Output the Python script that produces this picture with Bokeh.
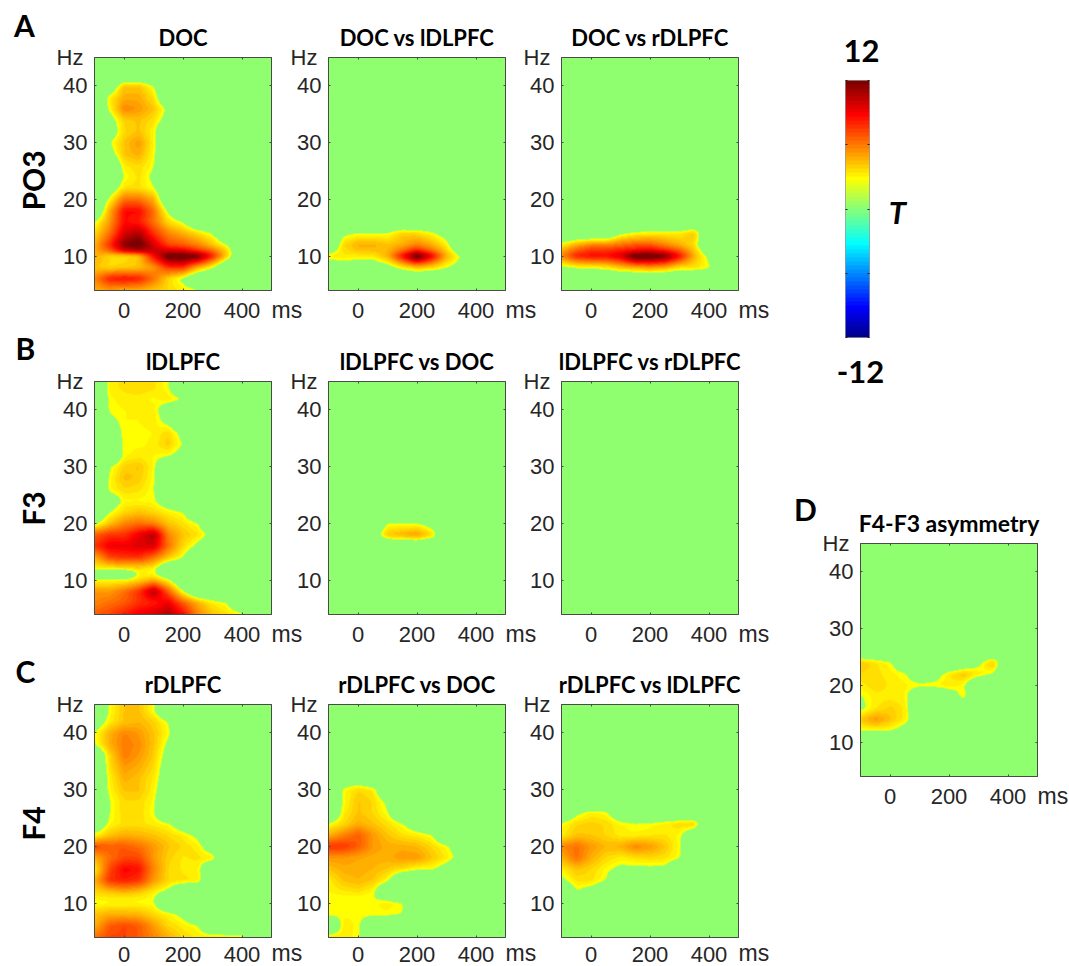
import numpy as np
from bokeh.embed import file_html
from bokeh.layouts import column, row
from bokeh.models import FixedTicker, Label, LinearAxis, LinearColorMapper, Range1d
from bokeh.plotting import figure
from bokeh.resources import INLINE

TIMES = [-100, -50, 0, 50, 100, 150, 200, 250, 300, 350, 400, 450, 500]
# rows run from the top of a panel down; short rows are zero to the right
FREQS = [44, 42, 40, 38, 36, 34, 32, 30, 28, 26, 24, 22, 20, 18, 16, 14, 12, 11, 10, 8, 6, 4]
X_TICKS = [0, 200, 400]
Y_TICKS = [10, 20, 30, 40]
CBAR_TICKS = [-12, -6, 0, 6, 12]

DOC = [
    [], [],
    [0, 1, 4.5, 4.5, 2.9],
    [0, 3.5, 5, 5, 3.8, 0],
    [0, 3.2, 6, 5.5, 4.5, 2.5],
    [0, 2, 4.2, 4.5, 3.8, 2],
    [0, 1.5, 4, 4.5, 3.3],
    [0, 2.8, 4.5, 5.5, 3.3],
    [0, 2, 4.5, 5, 3.2],
    [0, 0, 3.6, 4, 3],
    [0, 0, 3, 3.8, 2.5],
    [0, 1.5, 3.8, 3.8, 3],
    [0, 3.2, 6.5, 6.5, 5, 0],
    [0, 5, 9, 9, 6.5, 2.5],
    [2.8, 5.5, 9, 8.5, 6.5, 4, 2.8],
    [4, 6.5, 10, 11, 8, 6, 5, 4, 2.8],
    [5, 8, 12, 13, 10, 7.5, 7, 6, 4.5, 2.8],
    [5, 7, 10, 11, 10.5, 10, 9.5, 8, 6.5, 4],
    [5, 4, 3.8, 4.5, 9, 13, 13.5, 12.5, 8.5, 4.2],
    [4.5, 4, 4.2, 4.5, 5.5, 8, 8, 5, 3],
    [6, 8.5, 9, 8.5, 6.5, 4, 2.5],
    [5, 5.5, 5, 5, 4.5, 4, 3.5, 3],
]
DOC_VS_L = [
    [], [], [], [], [], [], [], [], [], [], [], [], [], [], [],
    [0, 2.5, 3, 3, 3, 4.2, 4, 3.2, 2],
    [0, 4, 5, 5, 4.5, 5, 6, 5, 3.5],
    [2, 3.8, 4.5, 4.6, 4.8, 6.5, 8.5, 6.5, 4.2, 1],
    [3.5, 3.6, 3.5, 3.5, 5, 9, 13.5, 9.5, 5, 2.8],
    [1.5, 2, 1.5, 1.5, 2, 3.5, 4.5, 4, 3, 2],
    [], [],
]
DOC_VS_R = [
    [], [], [], [], [], [], [], [], [], [], [], [], [], [], [],
    [0, 0, 0, 0, 2.5, 3.2, 3.5, 3.5, 3.5, 4.5],
    [3.5, 5, 6, 6, 6.5, 7, 7, 6, 5, 3.8],
    [5, 7, 8, 8, 8.5, 9, 9.5, 8.5, 7, 4.5, 1],
    [6, 8.5, 9, 9, 10, 13.5, 13.5, 12.5, 9, 5, 2.5],
    [2.5, 3, 3.2, 3.5, 4.5, 5, 5.5, 5, 3.8, 3.8, 3.2],
    [], [],
]
LDLPFC = [
    [0, 3.5, 3.8, 4, 3.8, 3],
    [0, 3.2, 3.5, 3.5, 3.2, 3.6, 3],
    [0, 3.1, 3.3, 3.3, 3.5, 1.5],
    [0, 2.4, 3.3, 3.3, 3.5, 2.4],
    [0, 1.5, 3.2, 3.2, 3.3, 4, 2.3],
    [0, 1, 3.2, 3.2, 3.4, 4.3, 2.8],
    [0, 0, 3.2, 3.5, 3.3, 3.1, 2],
    [0, 2.8, 4.2, 4.5, 3.2],
    [0, 3.1, 4.6, 4.3, 3.1],
    [0, 3.2, 4, 3.8, 3],
    [0, 1.5, 3.2, 3.2, 3.1, 1.5],
    [0, 2.8, 4, 4.5, 4, 3.4, 2.9],
    [2.5, 4.5, 6, 6.5, 6, 4.5, 3.8, 3],
    [7, 8, 8, 9.5, 11, 6, 4.5, 3.8, 2.5],
    [8, 9.5, 9.5, 10, 10, 6.5, 4, 2.5],
    [5, 7.5, 8, 8, 6.5, 4.5, 2.9],
    [3.3, 3.3, 3.6, 3.8, 3.2, 0],
    [0, 0, 0, 3.2, 3.2, 1],
    [3.2, 3.2, 3.2, 4, 5, 3.2],
    [5.5, 5.5, 6.5, 8, 11, 7, 3],
    [6, 6.5, 7, 8, 8.5, 9.5, 7, 5, 3.5, 2.9],
    [7, 7.5, 8.5, 9.5, 10, 11, 9, 6, 4.5, 3.8, 3.2],
]
L_VS_DOC = [
    [], [], [], [], [], [], [], [], [], [], [], [],
    [0, 0, 0, 0, 2.9, 2.9, 2.9, 2],
    [0, 0, 0, 1.5, 4.5, 5, 5.5, 4],
    [], [], [], [], [], [], [], [],
]
L_VS_R = [[] for f in FREQS]
RDLPFC = [
    [0, 3.1, 4.5, 4.5, 3.1],
    [1.5, 3.5, 4.5, 4.8, 4.2, 2.9],
    [3, 5, 6, 5.5, 4.5, 3.2],
    [2.8, 5, 6.2, 5.8, 4.5, 2.5],
    [0, 4, 6.2, 5.5, 4.3, 2],
    [0, 3.8, 5.5, 5, 4, 1.5],
    [0, 3.4, 5, 4.5, 3.6, 1.5],
    [0, 3.3, 4.5, 4.5, 3.4, 1],
    [0, 2.9, 4, 4, 3.2],
    [0, 2.9, 4, 4, 3],
    [1, 3.2, 3.8, 3.8, 3.5, 3.1, 1.5],
    [3.2, 4.5, 5, 4.8, 4.5, 4, 3.5, 2.5],
    [7.5, 7, 7, 6.5, 5.5, 4.5, 4, 3.5, 1.5],
    [5, 6.5, 7.5, 7.5, 5.5, 4.2, 3.6, 3.8, 3.6],
    [3.5, 7.5, 9.2, 8.8, 6, 4, 3.6, 3.4],
    [5, 8, 8.5, 8, 5.5, 4, 3.8, 3.6],
    [4, 4.5, 5, 4.5, 3.5, 2.5],
    [3.5, 3.6, 3.6, 3.5, 3.1],
    [3, 3.2, 3.2, 3.2, 3],
    [4.5, 5, 5, 4.8, 4, 3.4, 2.5],
    [5, 7, 7.5, 7, 5.5, 4, 3.5, 3],
    [6.5, 7.5, 7.5, 7, 6, 5, 4, 3.6, 3.6, 3.5, 3.4],
]
R_VS_DOC = [
    [], [], [], [], [], [],
    [0, 1, 1.5],
    [0, 3.2, 4, 3.6, 0],
    [0, 3.1, 4.5, 4, 2.5],
    [0, 3.5, 4.5, 4, 3],
    [3, 4, 5, 4.5, 3.8, 3, 1.5],
    [5, 6, 7, 5.5, 4.5, 3.8, 3.5, 3],
    [8, 8, 7, 5.5, 5, 5, 4.8, 4, 3.2, 1.5],
    [5.5, 5.5, 5.2, 5, 5, 5.5, 5.5, 4.5, 3.6, 2.3],
    [4.5, 5, 5, 4.8, 4.4, 3.8, 3.1, 3.1, 2],
    [3.5, 4.5, 4.8, 4.4, 3.1],
    [3.3, 3.6, 3.8, 3.2],
    [3.1, 3.1, 3.1, 3, 2],
    [3.2, 3.3, 3.3, 3.2, 3.5, 3.1],
    [3.2, 3.2, 3.3, 3.2, 3.2, 2.9],
    [0, 3.5, 3.2, 0],
    [3.6, 3.6, 3.1, 0],
]
R_VS_L = [
    [], [], [], [], [], [], [], [], [],
    [0, 2.5, 3.4, 3.1, 1],
    [3.1, 4, 4.2, 4, 3.3, 3, 3.1, 3.5, 4, 4.2],
    [3.5, 4.5, 4.4, 4, 3.5, 3.4, 3.6, 3.7, 3.2, 1],
    [6, 6.5, 5.5, 4.8, 5, 6, 5.5, 4.5, 3.1],
    [5, 6.5, 5, 4, 3.5, 3.8, 4, 3.8, 3.1],
    [3.5, 4.5, 4, 3.2, 2.5, 2.5, 2.5, 2.5],
    [2.5, 3.8, 3.8, 2.9],
    [0, 2.8, 2],
    [], [], [], [], [],
]
ASYM = [
    [], [], [], [], [], [], [], [], [], [],
    [4.5, 3.8, 3.1, 1, 0, 0, 0, 1, 2.5, 4.5],
    [4, 3.8, 3.5, 3.05, 1.5, 2, 3.6, 4.5, 3.6, 2.8],
    [3.5, 4, 3.6, 3.4, 3.2, 3.3, 3.6, 3.1],
    [2.8, 3.5, 3.5, 3.3, 0.5, 0, 1.5, 3.4],
    [2.5, 3.6, 4.2, 3.6],
    [4.5, 5.6, 4.5, 3.5, 1],
    [2.9, 3.1, 3, 2],
    [], [], [], [], [],
]

FRAME_W = 177
FRAME_H = 233
THRESHOLD = 2.9
COLOR_SHIFT = 0.3
TEXT = "#262626"
EDGE = "#4a4a4a"
PAGE_W = 1069
PAGE_H = 966

# matlab jet with 64 steps, T = 0 lands on the green of the panels
JET = []
for i in range(64):
    f = (i + 1) / 64
    rgb = [min(max(1.5 - abs(4 * f - c), 0), 1) for c in (3, 2, 1)]
    JET.append("#%02x%02x%02x" % tuple(int(round(v * 255)) for v in rgb))
mapper = LinearColorMapper(palette=JET, low=-12, high=12)


def smooth(a, n=5):
    kern = np.ones(n) / n
    pad = n // 2
    for axis in (0, 1):
        a = np.apply_along_axis(
            lambda v: np.convolve(np.pad(v, pad, mode="edge"), kern, mode="valid"), axis, a)
    return a


def panel_image(rows):
    grid = np.zeros((len(FREQS), len(TIMES)))
    for i, r in enumerate(rows):
        grid[i, :len(r)] = r
    grid = grid[::-1]
    hz = np.array(FREQS[::-1])
    xs = np.linspace(-100, 500, FRAME_W)
    ys = np.linspace(4, 45, FRAME_H)
    fine = np.array([np.interp(xs, TIMES, g) for g in grid])
    fine = np.array([np.interp(ys, hz, fine[:, j]) for j in range(FRAME_W)]).T
    fine = smooth(fine)
    out = fine - COLOR_SHIFT
    out[fine < THRESHOLD] = 0
    return out


def frame_axis(p, ticks, side):
    ax = LinearAxis(ticker=FixedTicker(ticks=ticks), major_tick_in=2, major_tick_out=0,
                    minor_tick_line_color=None, axis_line_color=EDGE, major_tick_line_color=EDGE,
                    major_label_text_color=None, major_label_standoff=0)
    p.add_layout(ax, side)


def panel(rows, title, left, right, top, bottom, shift=0, title_size=22, standoff=12):
    p = figure(title=title, frame_width=FRAME_W, frame_height=FRAME_H,
               x_range=Range1d(-100, 500), y_range=Range1d(4, 45),
               output_backend="svg", toolbar_location=None,
               min_border_left=left, min_border_right=right,
               min_border_top=top, min_border_bottom=bottom,
               margin=(0, 0, 0, shift),
               background_fill_color=None, border_fill_color=None,
               outline_line_color=EDGE)
    p.grid.visible = False
    p.title.align = "center"
    p.title.text_font = "Lato"
    p.title.text_font_size = "%dpx" % title_size
    p.title.text_font_style = "bold"
    p.title.text_color = "black"
    p.title.standoff = 13
    p.image(image=[panel_image(rows)], x=-100, y=4, dw=600, dh=41, color_mapper=mapper)
    for ax, ticks in ((p.xaxis[0], X_TICKS), (p.yaxis[0], Y_TICKS)):
        ax.ticker = FixedTicker(ticks=ticks)
        ax.major_tick_in = 2
        ax.major_tick_out = 0
        ax.minor_tick_line_color = None
        ax.axis_line_color = EDGE
        ax.major_tick_line_color = EDGE
        ax.major_label_text_font = "Liberation Sans"
        ax.major_label_text_font_size = "22px"
        ax.major_label_text_color = TEXT
    p.xaxis[0].major_label_standoff = standoff
    p.yaxis[0].major_label_standoff = 7
    frame_axis(p, X_TICKS, "above")
    frame_axis(p, Y_TICKS, "right")
    return p


def row_of(rows, titles, top, bottom, standoff=12):
    a = panel(rows[0], titles[0], 86, 32, top, bottom, standoff=standoff)
    b = panel(rows[1], titles[1], 40, 33, top, bottom, shift=-15, standoff=standoff)
    c = panel(rows[2], titles[2], 40, 32, top, bottom, shift=-17, standoff=standoff)
    return row(a, b, c)


row_a = row_of([DOC, DOC_VS_L, DOC_VS_R], ["DOC", "DOC vs lDLPFC", "DOC vs rDLPFC"], 49, 40)
row_b = row_of([LDLPFC, L_VS_DOC, L_VS_R], ["lDLPFC", "lDLPFC vs DOC", "lDLPFC vs rDLPFC"], 51, 36)
row_c = row_of([RDLPFC, R_VS_DOC, R_VS_L], ["rDLPFC", "rDLPFC vs DOC", "rDLPFC vs lDLPFC"], 54, 29, standoff=9)

# colour bar drawn from the same mapper
cbar = figure(frame_width=24, frame_height=257, x_range=Range1d(0, 1), y_range=Range1d(-12, 12),
              output_backend="svg", toolbar_location=None,
              min_border_left=77, min_border_right=197, min_border_top=72, min_border_bottom=63,
              margin=(0, 0, 0, -15),
              background_fill_color=None, border_fill_color=None, outline_line_color="#9a9a9a")
cbar.grid.visible = False
cbar.xaxis.visible = False
cbar.yaxis.visible = False
cbar.image(image=[np.linspace(-12, 12, 64).reshape(64, 1)], x=0, y=-12, dw=1, dh=24, color_mapper=mapper)
for side in ("left", "right"):
    ax = LinearAxis(ticker=FixedTicker(ticks=CBAR_TICKS), major_tick_in=2, major_tick_out=0,
                    minor_tick_line_color=None, axis_line_color=None, major_tick_line_color="#222222",
                    major_label_text_color=None, major_label_standoff=0)
    cbar.add_layout(ax, side)

asym = panel(ASYM, "F4-F3 asymmetry", 90, 31, 143, 45, title_size=23)

panels = row(column(row_a, row_b, row_c), column(cbar, asym), margin=(8, 0, 0, 8))

# labels outside a frame get cut off, so loose texts sit on a see-through sheet over the page
sheet = figure(width=PAGE_W, height=PAGE_H, x_range=Range1d(0, PAGE_W), y_range=Range1d(PAGE_H, 0),
               x_axis_location=None, y_axis_location=None, output_backend="svg", toolbar_location=None,
               min_border=0, margin=(0, 0, -PAGE_H, 0), outline_line_color=None,
               background_fill_color=None, border_fill_color=None)
sheet.grid.visible = False


def note(text, x, y, size, align="center", color="black", font="Lato", style="bold", angle=0):
    sheet.add_layout(Label(x=x, y=y, text=text, text_font=font, text_font_size="%dpx" % size,
                           text_font_style=style, text_color=color, text_align=align,
                           text_baseline="middle", angle=angle, angle_units="deg"))


for letter, x, y in (("A", 24, 24), ("B", 25, 347), ("C", 25, 670), ("D", 805, 508)):
    note(letter, x, y, 30)
for name, y in (("PO3", 180), ("F3", 508), ("F4", 823)):
    note(name, 32, y, 30, angle=90)
note("12", 861, 50, 31)
note("-12", 860, 371, 31)
note("T", 897, 211, 31, style="bold italic")

frames = [(x, y, 19) for y in (57, 381) for x in (94, 328, 561)]
frames += [(x, 704, 15) for x in (94, 328, 561)] + [(860, 543, 19)]
for x, y, below in frames:
    note("Hz", x - 11, y, 22, align="right", color=TEXT, font="Liberation Sans", style="normal")
    note("ms", x + FRAME_W, y + FRAME_H + below, 23, align="left", color=TEXT, font="Liberation Sans", style="normal")

page = column(sheet, panels)

open("out.html", "w").write(file_html(page, INLINE))
